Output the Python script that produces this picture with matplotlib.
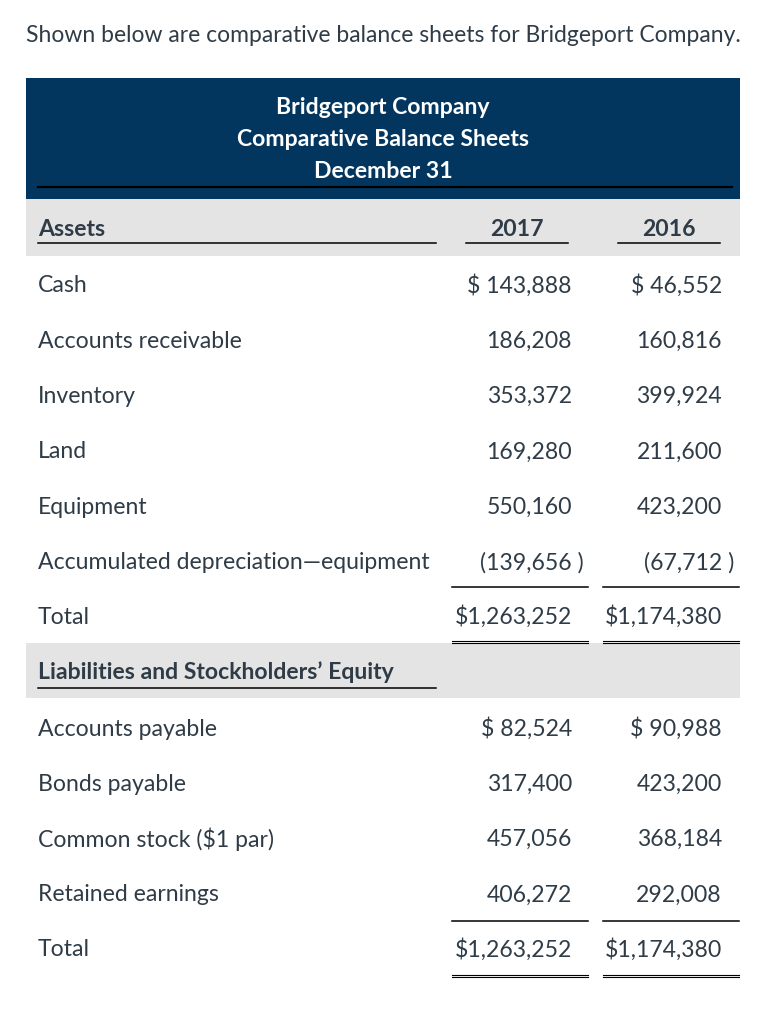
import matplotlib.pyplot as plt

# Table content
title_text = 'Shown below are comparative balance sheets for Bridgeport Company.'
header_lines = ['Bridgeport Company', 'Comparative Balance Sheets', 'December 31']
years = ['2017', '2016']

asset_labels = ['Cash', 'Accounts receivable', 'Inventory', 'Land', 'Equipment',
                'Accumulated depreciation\u2014equipment']
assets_2017 = [143888, 186208, 353372, 169280, 550160, -139656]
assets_2016 = [46552, 160816, 399924, 211600, 423200, -67712]
assets_total = [1263252, 1174380]

liab_labels = ['Accounts payable', 'Bonds payable', 'Common stock ($1 par)', 'Retained earnings']
liab_2017 = [82524, 317400, 457056, 406272]
liab_2016 = [90988, 423200, 368184, 292008]
liab_total = [1263252, 1174380]

NAVY = '#03365f'
GREY = '#e4e4e4'
TXT = '#2f3c47'
FONT = 'Lato'
FS = 16.6
DY = 2  # small downward nudge for text baseline


def fmt(v, dollar=False):
    if v < 0:
        return f'({-v:,} )'
    s = f'{v:,}'
    return ('$ ' + s) if dollar else s


fig = plt.figure(figsize=(7.78, 10.24), dpi=100)
ax = fig.add_axes([0, 0, 1, 1])
ax.set_xlim(0, 778)
ax.set_ylim(1024, 0)
ax.axis('off')

ax.text(26, 34 + DY, title_text, fontsize=16.5, family=FONT, color=TXT, va='center', ha='left')

# navy header
ax.add_patch(plt.Rectangle((26, 78), 714, 121, color=NAVY, lw=0))
for y, line in zip([106, 138, 170], header_lines):
    ax.text(383, y + DY, line, fontsize=FS, family=FONT, fontweight='bold', color='white',
            ha='center', va='center')
ax.plot([38, 732], [187, 187], color='black', lw=1.6)

# grey bands
ax.add_patch(plt.Rectangle((26, 199), 714, 57, color=GREY, lw=0))
ax.add_patch(plt.Rectangle((26, 643), 714, 55, color=GREY, lw=0))

col_right = [572, 722]
paren_right = [584, 734]
col_span = [(452, 588), (603, 739)]

ax.text(38, 227 + DY, 'Assets', fontsize=FS, family=FONT, fontweight='bold', color=TXT, va='center')
ax.plot([38, 436], [243, 243], color='black', lw=1.1)
for (x0, x1), yr in zip([(466, 568), (618, 720)], years):
    ax.text((x0 + x1) / 2, 227 + DY, yr, fontsize=FS, family=FONT, fontweight='bold',
            color=TXT, ha='center', va='center')
    ax.plot([x0, x1], [243, 243], color='black', lw=1.1)

row_h = 55.3


def draw_rows(labels, v17, v16, y0):
    for i, lab in enumerate(labels):
        y = y0 + i * row_h + DY
        ax.text(38, y, lab, fontsize=FS, family=FONT, color=TXT, va='center')
        for c, v in enumerate([v17[i], v16[i]]):
            x = paren_right[c] if v < 0 else col_right[c]
            ax.text(x, y, fmt(v, dollar=(i == 0)), fontsize=FS, family=FONT, color=TXT,
                    ha='right', va='center')


def draw_total(tot, y, y_line, y_dbl):
    ax.text(38, y + DY, 'Total', fontsize=FS, family=FONT, color=TXT, va='center')
    for c, v in enumerate(tot):
        ax.text(col_right[c], y + DY, '$' + f'{v:,}', fontsize=FS, family=FONT, color=TXT,
                ha='right', va='center')
        x0, x1 = col_span[c]
        ax.plot([x0, x1], [y_line, y_line], color='black', lw=1.1)
        ax.plot([x0, x1], [y_dbl, y_dbl], color='black', lw=0.8)
        ax.plot([x0, x1], [y_dbl + 2.6, y_dbl + 2.6], color='black', lw=0.8)


draw_rows(asset_labels, assets_2017, assets_2016, 284)
draw_total(assets_total, 615, 587, 640.5)

ax.text(38, 670 + DY, 'Liabilities and Stockholders\u2019 Equity', fontsize=FS, family=FONT,
        fontweight='bold', color=TXT, va='center')
ax.plot([38, 436], [688, 688], color='black', lw=1.1)

draw_rows(liab_labels, liab_2017, liab_2016, 727)
draw_total(liab_total, 948, 921, 974.5)

fig.savefig('out.png', dpi=100)
